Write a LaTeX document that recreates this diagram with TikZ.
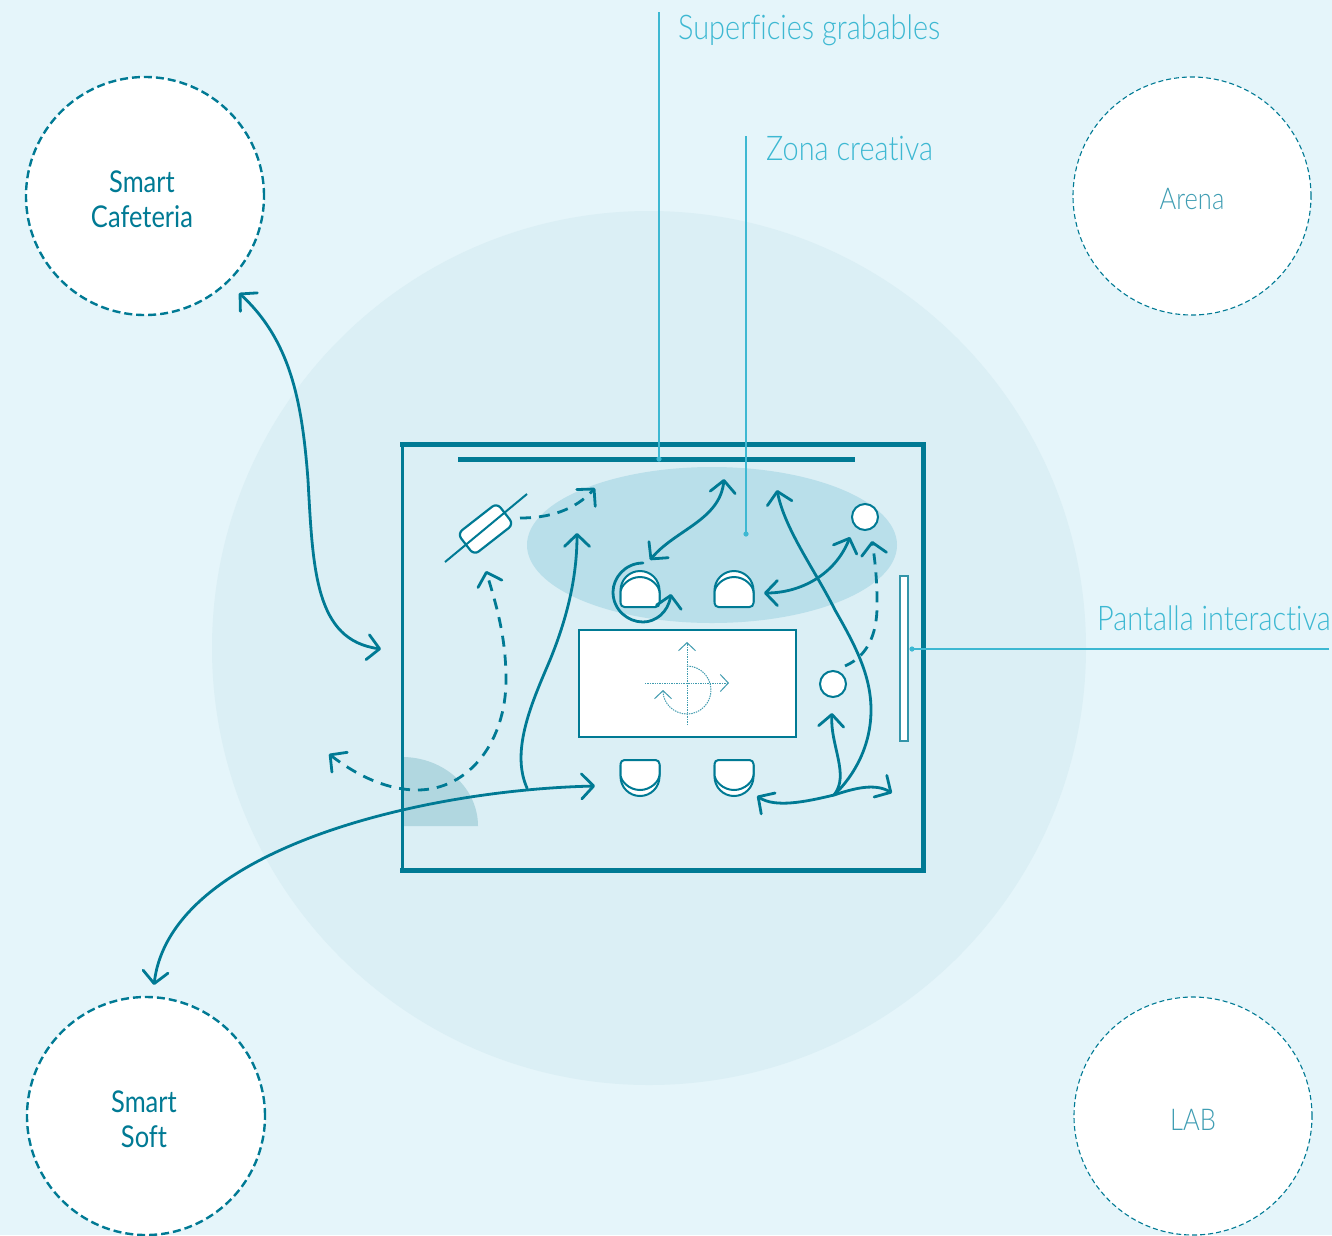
\documentclass[tikz,border=0pt]{standalone}
\usepackage{fontspec}
\setmainfont{Lato Light}[FakeStretch=.85, Ligatures=NoCommon]
\newfontfamily\hubfont{Lato}[FakeStretch=.85, Ligatures=NoCommon]
\usetikzlibrary{arrows.meta}
\definecolor{paper}{HTML}{E5F5FA}
\definecolor{halo}{HTML}{DBEFF5}
\definecolor{zone}{HTML}{B9DFEA}
\definecolor{doorleaf}{HTML}{B1D7E0}
\definecolor{teal}{HTML}{007A94}
\definecolor{sky}{HTML}{3DB8D2}
\definecolor{mist}{HTML}{3F9DB3}
\newcommand{\hubstrut}{\rule{0pt}{28pt}}
\tikzset{
  >={Straight Barb[length=12pt,width=25pt,line width=2.8pt,round]},
  path/.style={draw=teal, line width=2.8pt, line cap=round},
  dashpath/.style={path, line cap=butt, dash pattern=on 11pt off 8pt},
  hub/.style={circle, draw=teal, fill=white, line width=2.4pt, dash pattern=on 8pt off 4pt, minimum size=238pt, inner sep=0pt, align=center, text=teal, font=\hubfont\fontsize{30}{35}\selectfont},
  farhub/.style={circle, draw=teal, fill=white, line width=1.1pt, dash pattern=on 5pt off 3pt, minimum size=238pt, inner sep=0pt, align=center, text=mist, font=\fontsize{30}{35}\selectfont},
  tag/.style={anchor=base west, inner sep=0pt, text=sky, font=\fontsize{34}{36}\selectfont},
  leader/.style={draw=sky, line width=1.2pt},
  stool/.style={circle, draw=teal, fill=white, line width=2pt, minimum size=26pt, inner sep=0pt},
  sketch/.style={draw=teal!75, line width=1pt, dash pattern=on 1.4pt off 1pt},
  sketchtip/.style={-{Straight Barb[length=8pt,width=17pt,line width=1pt]}},
  chair/.pic={
    \draw[teal, fill=white, line width=2pt] (-19.5,6) -- (-19.5,16.5) arc[start angle=180, end angle=0, radius=19.5] -- (19.5,6) -- cycle;
    \draw[teal, fill=white, line width=2pt, rounded corners=4pt] (-19.5,0) -- (-19.5,10.5) arc[start angle=180, end angle=0, radius=19.5] -- (19.5,0) -- cycle;
  }
}
\begin{document}
\begin{tikzpicture}[x=1pt, y=-1pt]
  \useasboundingbox[fill=paper] (0,0) rectangle (1332,1235);
  % ground
  \fill[halo] (649,648) circle[radius=437];
  \fill[zone] (712,545) ellipse[x radius=185, y radius=78];
  \fill[doorleaf] (402,826) -- (402,757) arc[start angle=-90, end angle=0, x radius=76, y radius=69] -- cycle;

  % room
  \coordinate (NW) at (402,444); \coordinate (NE) at (923,444);
  \coordinate (SW) at (402,870); \coordinate (SE) at (923,870);
  \draw[teal, line width=3pt] (NW)--(SW);
  \draw[teal, line width=5pt, line cap=rect] (NW)--(NE)--(SE)--(SW);
  \coordinate (B1) at (458,459); \coordinate (B2) at (855,459);
  \draw[teal, line width=5pt] (B1)--(B2);

  % hubs
  \node[hub] (cafeteria) at (145,196) {\hubstrut\hspace*{-6pt}Smart\\\hspace*{-6pt}Cafeteria};
  \node[farhub] (arena) at (1192,196) {\hubstrut Arena};
  \node[hub] (soft) at (146,1116) {\hubstrut\hspace*{-4pt}Smart\\\hspace*{-4pt}Soft};
  \node[farhub] (lab) at (1193,1116) {\hubstrut LAB};

  % furniture
  \node[draw=teal, fill=white, line width=2.2pt, minimum width=217pt, minimum height=107pt, inner sep=0pt] (table) at (687.5,683.5) {};
  \node[draw=teal!80, fill=white, line width=1.6pt, minimum width=8pt, minimum height=165pt, inner sep=0pt] (screen) at (904,658.5) {};
  \node[stool] (stoolA) at (865,517) {};
  \node[stool] (stoolB) at (833,684) {};
  \foreach \cx in {640,734} {
    \pic at (\cx,607) [yscale=-1] {chair};
    \pic at (\cx,760) {chair};
  }
  \coordinate (P1) at (445,562); \coordinate (P2) at (527,494);
  \node[draw=teal, fill=white, line width=2.2pt, rounded corners=6pt, rotate=38, minimum width=50pt, minimum height=27pt, inner sep=0pt] (projector) at (485.5,529) {};
  \draw[teal, line width=2pt] (P1)--(P2);

  % table sketch
  \coordinate (T1) at (645,683); \coordinate (T2) at (729,683);
  \coordinate (T3) at (687,725); \coordinate (T4) at (687,642);
  \coordinate (T5) at (687,666);
  \draw[sketch, sketchtip] (T1)--(T2);
  \draw[sketch, sketchtip] (T3)--(T4);
  \draw[sketch, sketchtip] (T5) arc[start angle=-90, end angle=180, radius=24];

  % free ends of the routes
  \coordinate (cafeEnd) at (239,293); \coordinate (roomIn) at (381,649);
  \coordinate (softEnd) at (154,985); \coordinate (chairIn) at (595,786);
  \coordinate (forkA) at (527,788); \coordinate (zoneA) at (577,533);
  \coordinate (outside) at (329,754); \coordinate (projIn) at (486,571);
  \coordinate (projOut) at (520,518); \coordinate (zoneB) at (595,488);
  \coordinate (chairA) at (650,560); \coordinate (zoneC) at (724,479);
  \coordinate (chairB) at (764,593); \coordinate (stoolIn) at (850,537);
  \coordinate (zoneD) at (777,490); \coordinate (forkB) at (834,795);
  \coordinate (stoolUp) at (832,713); \coordinate (chairC) at (757,796);
  \coordinate (screenIn) at (892,793); \coordinate (stoolOut) at (845,666);
  \coordinate (stoolTop) at (872,541);
  \coordinate (spinA) at (643,563); \coordinate (spinB) at (671,594);

  % routes
  \draw[path, <->] (cafeEnd) .. controls (290,340) and (302,400) .. (308,480) .. controls (313,570) and (315,640) .. (roomIn);
  \draw[path, <->] (chairIn) .. controls (420,790) and (170,850) .. (softEnd);
  \draw[path, ->] (forkA) .. controls (510,750) and (533,700) .. (550,660) .. controls (563,628) and (577,585) .. (zoneA);
  \draw[dashpath, <->] (outside) .. controls (360,778) and (390,790) .. (417,790) .. controls (470,790) and (506,740) .. (506,680) .. controls (506,640) and (498,610) .. (projIn);
  \draw[dashpath, ->] (projOut) .. controls (550,518) and (575,510) .. (zoneB);
  \draw[path, <->] (chairA) .. controls (675,530) and (720,520) .. (zoneC);
  \draw[path, <->] (chairB) .. controls (800,593) and (835,575) .. (stoolIn);
  \draw[path, ->] (forkB) .. controls (855,775) and (871,745) .. (871,710) .. controls (871,675) and (855,645) .. (835,610) .. controls (815,570) and (785,530) .. (zoneD);
  \draw[path, ->] (forkB) .. controls (850,775) and (830,745) .. (stoolUp);
  \draw[path, <->] (chairC) .. controls (775,808) and (805,802) .. (forkB) .. controls (855,788) and (875,783) .. (screenIn);
  \draw[dashpath, ->] (stoolOut) .. controls (870,655) and (878,630) .. (877,600) .. controls (877,580) and (875,560) .. (stoolTop);
  \draw[path, ->] (spinA) .. controls (625,563) and (613,578) .. (613,592) .. controls (613,610) and (628,622) .. (643,622) .. controls (656,622) and (668,612) .. (spinB);

  % labels
  \node[tag] (surfaces) at (678,39) {Superficies grabables};
  \node[tag] (creative) at (766,160) {Zona creativa};
  \node[tag] (display) at (1097,630) {Pantalla interactiva};
  \coordinate (S1) at (659,12); \coordinate (S2) at (659,459);
  \coordinate (Z1) at (746,136); \coordinate (Z2) at (746,534);
  \coordinate (D1) at (1329,649); \coordinate (D2) at (912,649);
  \foreach \a/\b in {S1/S2,Z1/Z2,D1/D2} {
    \draw[leader] (\a)--(\b);
    \fill[sky] (\b) circle[radius=2.6];
  }
\end{tikzpicture}
\end{document}
